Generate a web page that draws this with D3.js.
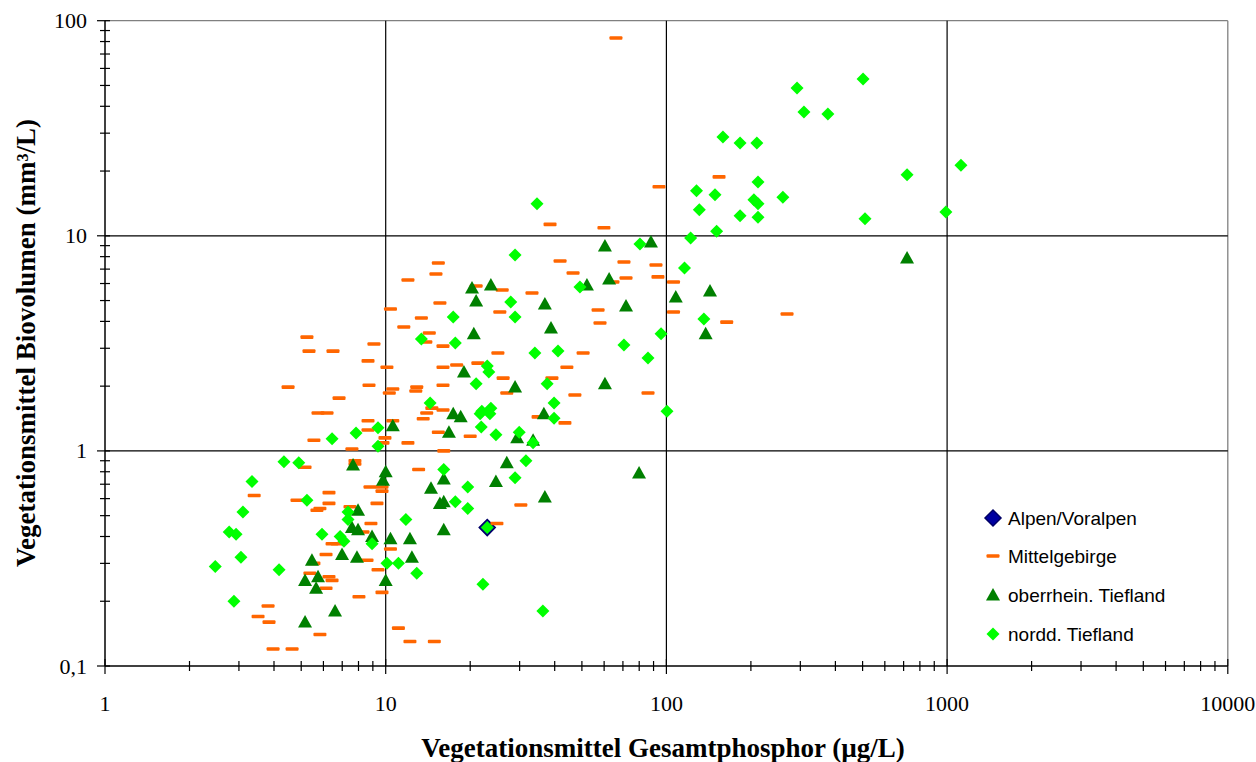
<!DOCTYPE html>
<html><head><meta charset="utf-8">
<script src="https://cdn.jsdelivr.net/npm/d3@7"></script>
<style>body{margin:0;background:#fff}svg{display:block}</style>
</head><body>
<svg id="c" width="1256" height="762"></svg>
<script>
const seriesNames = ["Alpen/Voralpen", "Mittelgebirge", "oberrhein. Tiefland", "nordd. Tiefland"];
const xTickValues = [1, 10, 100, 1000, 10000];
const xTickLabels = ["1", "10", "100", "1000", "10000"];
const yTickValues = [0.1, 1, 10, 100];
const yTickLabels = ["0,1", "1", "10", "100"];

const alpen = [[23.0, 0.44]];

const mittelgebirge = [
 [10.4,4.57],[11.6,3.77],[5.24,3.38],[9.08,3.14],[5.33,2.91],[6.49,2.91],[8.65,2.62],[10.1,2.45],
 [4.49,1.98],[8.72,2.02],[10.6,1.94],[10.3,1.86],[6.82,1.76],[5.74,1.50],[6.18,1.50],[8.65,1.38],
 [10.6,1.38],[8.65,1.25],[5.55,1.12],[9.94,1.15],[9.78,1.09],[7.58,1.02],[7.77,0.90],[7.77,0.87],
 [5.16,0.84],[3.40,0.62],[6.28,0.64],[4.83,0.59],[6.28,0.57],[5.83,0.54],[5.69,0.53],[8.79,0.68],
 [9.70,0.68],[9.70,0.65],[9.31,0.57],[7.46,0.55],[8.86,0.46],[8.30,0.42],[6.44,0.37],[6.71,0.37],
 [6.13,0.33],[8.58,0.31],[5.55,0.30],[10.4,0.35],[9.39,0.28],[5.37,0.27],[6.28,0.26],[6.44,0.25],
 [6.13,0.23],[9.70,0.22],[8.03,0.21],[3.81,0.19],[3.51,0.17],[3.84,0.16],[5.83,0.14],[11.1,0.15],
 [3.97,0.12],[4.64,0.12],[12.2,0.13],[16.1,1.0],[13.1,0.82],[30.3,0.56],[24.9,0.46],[14.9,0.13],
 [15.4,7.47],[41.8,7.64],[15.1,6.64],[46.5,6.71],[12.0,6.23],[21.0,5.84],[26.0,5.60],[33.2,5.42],
 [15.6,4.87],[25.5,4.42],[57.1,4.52],[13.4,4.15],[14.3,3.53],[58.0,3.93],[13.9,3.21],[16.0,3.07],
 [25.1,2.85],[50.5,2.85],[16.0,2.45],[17.9,2.51],[21.3,2.56],[44.2,2.45],[26.2,2.18],[39.1,2.18],
 [16.0,2.02],[12.9,1.98],[12.8,1.90],[27.0,1.86],[47.2,1.82],[14.6,1.58],[16.0,1.55],[14.0,1.50],
 [13.6,1.41],[34.9,1.44],[43.5,1.35],[15.4,1.22],[20.0,1.17],[12.0,1.09],
 [70.6,7.55],[91.8,7.32],[71.8,6.37],[93.3,6.44],[64.5,6.10],[106,6.10],[106,4.42],[269,4.33],
 [164,3.97],[86.0,1.86],[38.5,11.3],[59.9,10.9],[66.1,83.1],[94.1,16.9],[154,18.8]
];

const oberrhein = [
 [7.65,0.86],[10.0,0.80],[9.78,0.73],[7.97,0.53],[7.58,0.44],[7.97,0.43],[8.94,0.40],[10.4,0.39],
 [6.99,0.33],[7.90,0.32],[5.46,0.31],[5.74,0.26],[5.16,0.25],[10.0,0.25],[5.65,0.23],[6.60,0.18],
 [5.16,0.16],[10.6,1.31],[20.3,5.72],[23.7,5.91],[21.0,4.98],[36.9,4.82],[52.1,5.91],[38.8,3.73],
 [20.6,3.50],[19.0,2.33],[28.9,1.98],[17.4,1.49],[18.5,1.44],[36.6,1.49],[16.8,1.22],[29.4,1.15],
 [33.5,1.12],[27.0,0.88],[14.5,0.67],[16.1,0.74],[24.7,0.72],[36.9,0.61],[16.1,0.58],[15.6,0.57],
 [16.1,0.43],[12.2,0.39],[12.4,0.32],[60.4,8.97],[88.1,9.36],[62.5,6.30],[108,5.19],[143,5.54],
 [71.8,4.72],[138,3.50],[60.4,2.05],[79.9,0.79],[720,7.89]
];

const nordd = [
 [4.34,0.89],[4.9,0.88],[3.34,0.72],[3.1,0.52],[2.77,0.42],[2.93,0.41],[3.05,0.32],[2.47,0.29],
 [4.17,0.28],[2.88,0.20],[5.24,0.59],[5.93,0.41],[6.88,0.40],[7.1,0.38],[7.34,0.52],[7.34,0.48],
 [8.94,0.37],[10.1,0.30],[11.1,0.30],[9.39,1.28],[7.84,1.21],[6.44,1.14],[9.39,1.05],
 [28.9,8.14],[49.2,5.78],[27.9,4.92],[28.9,4.19],[17.4,4.19],[13.4,3.31],[17.7,3.17],[34.0,2.85],
 [41.1,2.91],[23.0,2.48],[23.3,2.33],[21.0,2.05],[37.6,2.05],[14.4,1.67],[39.8,1.67],[22.0,1.53],
 [23.7,1.58],[21.7,1.49],[23.5,1.49],[39.8,1.42],[21.9,1.29],[24.7,1.19],[29.9,1.22],[33.5,1.09],
 [31.6,0.90],[16.1,0.82],[28.9,0.75],[19.6,0.68],[17.7,0.58],[19.6,0.54],[11.8,0.48],[23.0,0.44],
 [12.9,0.27],[22.2,0.24],[36.3,0.18],[80.5,9.16],[122,9.77],[116,7.09],[136,4.10],[95.7,3.50],
 [70.6,3.11],[86.0,2.70],[100.5,1.53],[34.6,14.1],[292,48.7],[159,28.8],[183,27.0],[210,27.0],
 [212,17.8],[128,16.2],[149,15.5],[205,14.7],[212,14.1],[260,15.1],[131,13.2],[183,12.4],
 [212,12.2],[151,10.5],[502,53.6],[309,37.6],[376,36.8],[1120,21.3],[720,19.2],[990,12.9],[510,12.0]
];

const svg = d3.select("#c");
const x = d3.scaleLog().domain([1, 10000]).range([105, 1227.8]);
const y = d3.scaleLog().domain([0.1, 100]).range([666, 20.7]);

svg.append("line").attr("x1",x(1)).attr("x2",x(10000)).attr("y1",y(100)).attr("y2",y(100))
  .attr("stroke","#808080").attr("stroke-width",1.3);
svg.append("line").attr("x1",x(10000)).attr("x2",x(10000)).attr("y1",y(100)).attr("y2",y(0.1))
  .attr("stroke","#808080").attr("stroke-width",1.3);

const g = svg.append("g");
[10,100,1000].forEach(v=>{
  g.append("line").attr("x1",x(v)).attr("x2",x(v)).attr("y1",y(100)).attr("y2",y(0.1))
   .attr("stroke","#000").attr("stroke-width",1.2);
});
[1,10].forEach(v=>{
  g.append("line").attr("x1",x(1)).attr("x2",x(10000)).attr("y1",y(v)).attr("y2",y(v))
   .attr("stroke","#000").attr("stroke-width",1.2);
});

svg.append("line").attr("x1",x(1)).attr("x2",x(1)).attr("y1",y(100)).attr("y2",y(0.1)).attr("stroke","#000").attr("stroke-width",1.5);
svg.append("line").attr("x1",x(1)).attr("x2",x(10000)).attr("y1",y(0.1)).attr("y2",y(0.1)).attr("stroke","#000").attr("stroke-width",1.5);

x.ticks().forEach(v=>{
  const major = xTickValues.indexOf(v) >= 0;
  svg.append("line").attr("x1",x(v)).attr("x2",x(v))
    .attr("y1", major ? y(0.1)-7 : y(0.1)-5).attr("y2", major ? y(0.1)+8 : y(0.1)+5)
    .attr("stroke","#000").attr("stroke-width",1.2);
});
y.ticks().forEach(v=>{
  const major = yTickValues.some(t=>Math.abs(t-v)<1e-9);
  svg.append("line").attr("y1",y(v)).attr("y2",y(v))
    .attr("x1", major ? x(1)-8 : x(1)-5).attr("x2", x(1)+5)
    .attr("stroke","#000").attr("stroke-width",1.2);
});

const serif = "'Liberation Serif','Times New Roman',serif";
xTickValues.forEach((v,i)=>{
  svg.append("text").attr("x",x(v)).attr("y",711).attr("text-anchor","middle")
    .attr("font-family",serif).attr("font-size",22).text(xTickLabels[i]);
});
yTickValues.forEach((v,i)=>{
  svg.append("text").attr("x",87).attr("y",y(v)+7.5).attr("text-anchor","end")
    .attr("font-family",serif).attr("font-size",22).text(yTickLabels[i]);
});

svg.append("text").attr("x",663).attr("y",757).attr("text-anchor","middle")
  .attr("font-family",serif).attr("font-size",27).attr("font-weight","bold")
  .text("Vegetationsmittel Gesamtphosphor (µg/L)");
svg.append("text").attr("transform","translate(35,343) rotate(-90)").attr("text-anchor","middle")
  .attr("font-family",serif).attr("font-size",27).attr("font-weight","bold")
  .text("Vegetationsmittel Biovolumen (mm³/L)");

const diamondPath = s => `M0,${-s}L${s},0L0,${s}L${-s},0Z`;
const triPath = `M0,-7L7,5.5L-7,5.5Z`;

function drawAlpen(sel, px, py){
  sel.append("path").attr("d",diamondPath(8)).attr("transform",`translate(${px},${py})`)
    .attr("fill","#0000a0").attr("stroke","#000066").attr("stroke-width",1.5);
}
function drawDash(sel, px, py){
  sel.append("rect").attr("x",px-6.5).attr("y",py-1.8).attr("width",13).attr("height",3.6)
    .attr("rx",1).attr("fill","#ff6600");
}
function drawTri(sel, px, py){
  sel.append("path").attr("d",triPath).attr("transform",`translate(${px},${py})`).attr("fill","#008000");
}
function drawDia(sel, px, py){
  sel.append("path").attr("d",diamondPath(6.5)).attr("transform",`translate(${px},${py})`).attr("fill","#00ff00");
}

const m = svg.append("g");
alpen.forEach(d=>drawAlpen(m, x(d[0]), y(d[1])));
mittelgebirge.forEach(d=>drawDash(m, x(d[0]), y(d[1])));
oberrhein.forEach(d=>drawTri(m, x(d[0]), y(d[1])));
nordd.forEach(d=>drawDia(m, x(d[0]), y(d[1])));

const lg = svg.append("g");
const rowsY = [518, 556, 595, 634];
const drawers = [drawAlpen, drawDash, drawTri, drawDia];
seriesNames.forEach((n,i)=>{
  drawers[i](lg, 993, rowsY[i]);
  lg.append("text").attr("x",1008).attr("y",rowsY[i]+6.5)
    .attr("font-family","'Liberation Sans',Arial,sans-serif").attr("font-size",19).text(n);
});
</script>
</body></html>
